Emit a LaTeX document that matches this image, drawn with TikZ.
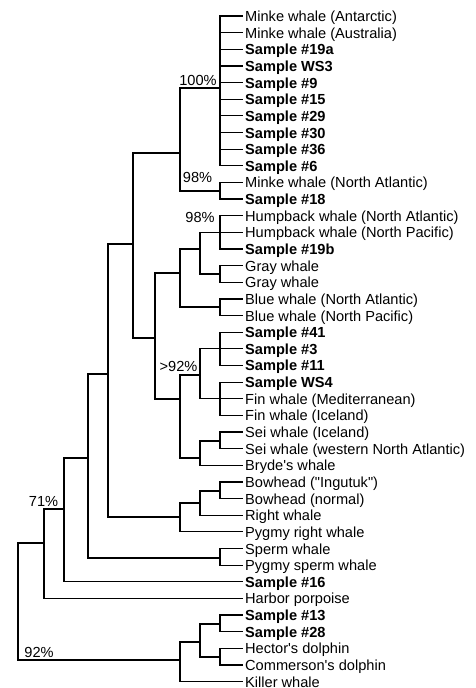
\documentclass[tikz,border=0pt]{standalone}
\usepackage{fontspec}
\newfontfamily\treefont{Liberation Sans}
\usetikzlibrary{calc}
\tikzset{
	leaf/.style={anchor=west, inner xsep=2pt, inner ysep=0pt, text height=11pt, text depth=0pt},
	sample/.style={leaf, font=\bfseries},
	pct/.style={inner sep=0pt, text height=11pt, text depth=0pt},
	branch/.style={line width=1.2pt},
}
\begin{document}
\begin{tikzpicture}[x=1pt, y=-1pt]
	\treefont\fontsize{14.6}{16}\selectfont
	\useasboundingbox (0,0) rectangle (475,688);
	% leaves
	\node[leaf]   (mkAnt)     at (243,16.0)  {Minke whale (Antarctic)};
	\node[leaf]   (mkAus)     at (243,32.6)  {Minke whale (Australia)};
	\node[sample] (s19a)      at (243,49.3)  {Sample \#19a};
	\node[sample] (sWS3)      at (243,65.9)  {Sample WS3};
	\node[sample] (s9)        at (243,82.6)  {Sample \#9};
	\node[sample] (s15)       at (243,99.2)  {Sample \#15};
	\node[sample] (s29)       at (243,115.8) {Sample \#29};
	\node[sample] (s30)       at (243,132.5) {Sample \#30};
	\node[sample] (s36)       at (243,149.1) {Sample \#36};
	\node[sample] (s6)        at (243,165.8) {Sample \#6};
	\node[leaf]   (mkNA)      at (243,182.4) {Minke whale (North Atlantic)};
	\node[sample] (s18)       at (243,199.0) {Sample \#18};
	\node[leaf]   (hbNA)      at (243,215.7) {Humpback whale (North Atlantic)};
	\node[leaf]   (hbNP)      at (243,232.3) {Humpback whale (North Pacific)};
	\node[sample] (s19b)      at (243,249.0) {Sample \#19b};
	\node[leaf]   (grayA)     at (243,265.6) {Gray whale};
	\node[leaf]   (grayB)     at (243,282.2) {Gray whale};
	\node[leaf]   (blNA)      at (243,298.9) {Blue whale (North Atlantic)};
	\node[leaf]   (blNP)      at (243,315.5) {Blue whale (North Pacific)};
	\node[sample] (s41)       at (243,332.2) {Sample \#41};
	\node[sample] (s3)        at (243,348.8) {Sample \#3};
	\node[sample] (s11)       at (243,365.4) {Sample \#11};
	\node[sample] (sWS4)      at (243,382.1) {Sample WS4};
	\node[leaf]   (finMed)    at (243,398.7) {Fin whale (Mediterranean)};
	\node[leaf]   (finIce)    at (243,415.4) {Fin whale (Iceland)};
	\node[leaf]   (seiIce)    at (243,432.0) {Sei whale (Iceland)};
	\node[leaf]   (seiWNA)    at (243,448.6) {Sei whale (western North Atlantic)};
	\node[leaf]   (bryde)     at (243,465.3) {Bryde's whale};
	\node[leaf]   (bowIng)    at (243,481.9) {Bowhead ("Ingutuk")};
	\node[leaf]   (bowNorm)   at (243,498.6) {Bowhead (normal)};
	\node[leaf]   (rightW)    at (243,515.2) {Right whale};
	\node[leaf]   (pygRight)  at (243,531.8) {Pygmy right whale};
	\node[leaf]   (sperm)     at (243,548.5) {Sperm whale};
	\node[leaf]   (pygSperm)  at (243,565.1) {Pygmy sperm whale};
	\node[sample] (s16)       at (243,581.8) {Sample \#16};
	\node[leaf]   (porpoise)  at (243,598.4) {Harbor porpoise};
	\node[sample] (s13)       at (243,615.0) {Sample \#13};
	\node[sample] (s28)       at (243,631.7) {Sample \#28};
	\node[leaf]   (hector)    at (243,648.3) {Hector's dolphin};
	\node[leaf]   (commerson) at (243,665.0) {Commerson's dolphin};
	\node[leaf]   (killer)    at (243,681.6) {Killer whale};

	% branch points
	\coordinate (c100)    at (220,88);
	\coordinate (cMkNA)   at (220,191);
	\coordinate (cMk)     at (180,153);
	\coordinate (cHb)     at (220,232.3);
	\coordinate (cGray)   at (220,274);
	\coordinate (cHbG)    at (200,249);
	\coordinate (cBlue)   at (220,307);
	\coordinate (cHbB)    at (180,273);
	\coordinate (cS41)    at (220,348.8);
	\coordinate (cFin)    at (220,398.7);
	\coordinate (cFinS)   at (200,375);
	\coordinate (cSei)    at (220,441);
	\coordinate (cSeiB)   at (200,458);
	\coordinate (cFinSei) at (180,399);
	\coordinate (cRorq)   at (155,338);
	\coordinate (cBal)    at (133,244);
	\coordinate (cBow)    at (220,491);
	\coordinate (cBowR)   at (200,503);
	\coordinate (cRight)  at (180,517);
	\coordinate (cMyst)   at (108,374);
	\coordinate (cSperm)  at (220,558);
	\coordinate (cWh)     at (88,458);
	\coordinate (cCet)    at (64,509);
	\coordinate (cPorp)   at (44,543);
	\coordinate (cS13)    at (220,624);
	\coordinate (cHec)    at (220,657);
	\coordinate (cDel)    at (200,642);
	\coordinate (cKill)   at (180,660);
	\coordinate (root)    at (18,600);

	\draw[branch] (c100) |- (mkAnt.west)  (c100) |- (mkAus.west)  (c100) |- (s19a.west)
		(c100) |- (sWS3.west)  (c100) |- (s9.west)  (c100) |- (s15.west)  (c100) |- (s29.west)
		(c100) |- (s30.west)  (c100) |- (s36.west)  (c100) |- (s6.west);
	\draw[branch] (cMkNA) |- (mkNA.west)  (cMkNA) |- (s18.west);
	\draw[branch] (cMk) |- (c100)  (cMk) |- (cMkNA);
	\draw[branch] (cHb) |- (hbNA.west)  (cHb) |- (hbNP.west)  (cHb) |- (s19b.west);
	\draw[branch] (cGray) |- (grayA.west)  (cGray) |- (grayB.west);
	\draw[branch] (cHbG) |- (cHb)  (cHbG) |- (cGray);
	\draw[branch] (cBlue) |- (blNA.west)  (cBlue) |- (blNP.west);
	\draw[branch] (cHbB) |- (cHbG)  (cHbB) |- (cBlue);
	\draw[branch] (cS41) |- (s41.west)  (cS41) |- (s3.west)  (cS41) |- (s11.west);
	\draw[branch] (cFin) |- (sWS4.west)  (cFin) |- (finMed.west)  (cFin) |- (finIce.west);
	\draw[branch] (cFinS) |- (cS41)  (cFinS) |- (cFin);
	\draw[branch] (cSei) |- (seiIce.west)  (cSei) |- (seiWNA.west);
	\draw[branch] (cSeiB) |- (cSei)  (cSeiB) |- (bryde.west);
	\draw[branch] (cFinSei) |- (cFinS)  (cFinSei) |- (cSeiB);
	\draw[branch] (cRorq) |- (cHbB)  (cRorq) |- (cFinSei);
	\draw[branch] (cBal) |- (cMk)  (cBal) |- (cRorq);
	\draw[branch] (cBow) |- (bowIng.west)  (cBow) |- (bowNorm.west);
	\draw[branch] (cBowR) |- (cBow)  (cBowR) |- (rightW.west);
	\draw[branch] (cRight) |- (cBowR)  (cRight) |- (pygRight.west);
	\draw[branch] (cMyst) |- (cBal)  (cMyst) |- (cRight);
	\draw[branch] (cSperm) |- (sperm.west)  (cSperm) |- (pygSperm.west);
	\draw[branch] (cWh) |- (cMyst)  (cWh) |- (cSperm);
	\draw[branch] (cCet) |- (cWh)  (cCet) |- (s16.west);
	\draw[branch] (cPorp) |- (cCet)  (cPorp) |- (porpoise.west);
	\draw[branch] (cS13) |- (s13.west)  (cS13) |- (s28.west);
	\draw[branch] (cHec) |- (hector.west)  (cHec) |- (commerson.west);
	\draw[branch] (cDel) |- (cS13)  (cDel) |- (cHec);
	\draw[branch] (cKill) |- (cDel)  (cKill) |- (killer.west);
	\draw[branch] (root) |- (cPorp)  (root) |- (cKill);

	% bootstrap values
	\node[pct] (p100) at (198,80)    {100\%};
	\node[pct] (p98a) at (197.5,176.5) {98\%};
	\node[pct] (p98b) at (200,217)   {98\%};
	\node[pct] (p92a) at (178.5,366) {>92\%};
	\node[pct] (p71)  at (43.5,501)  {71\%};
	\node[pct] (p92b) at (39,652)    {92\%};
\end{tikzpicture}
\end{document}
